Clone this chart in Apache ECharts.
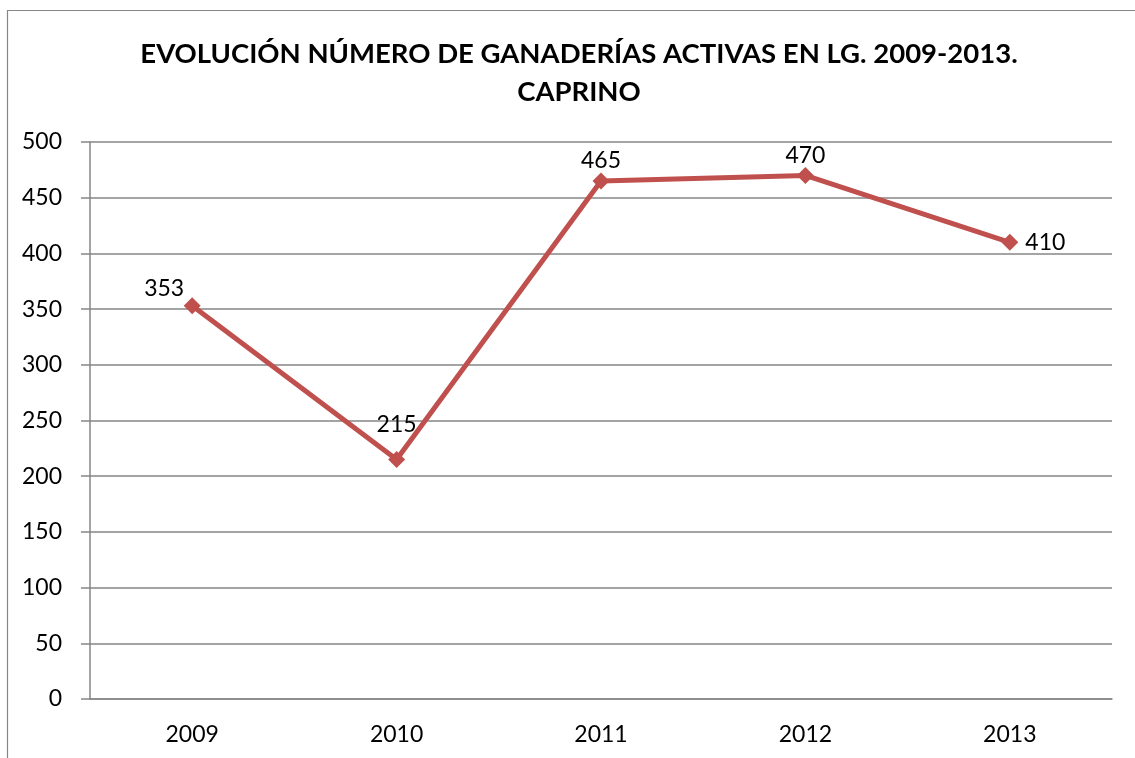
<!DOCTYPE html>
<html>
<head>
<meta charset="utf-8">
<script src="https://cdn.jsdelivr.net/npm/echarts@6/dist/echarts.min.js"></script>
<style>
  html, body { margin: 0; padding: 0; background: #fff; }
  #chart { width: 1135px; height: 758px; }
</style>
</head>
<body>
<div id="chart"></div>
<script>
const years = ["2009", "2010", "2011", "2012", "2013"];
const ganaderias = [353, 215, 465, 470, 410];
const yTicks = [0, 50, 100, 150, 200, 250, 300, 350, 400, 450, 500];

const fuente = "Lato, 'Open Sans', sans-serif";

// posición de cada etiqueta como en el original
const labelPos = [
  { position: "top", offset: [-28, 8] },
  { position: "top", offset: [0, -10] },
  { position: "top", offset: [0, 5] },
  { position: "top", offset: [0, 5] },
  { position: "right", offset: [2, 0] }
];

const chart = echarts.init(document.getElementById("chart"));

chart.setOption({
  animation: false,
  backgroundColor: "#fff",
  title: {
    text: "EVOLUCIÓN NÚMERO DE GANADERÍAS ACTIVAS EN LG. 2009-2013.\nCAPRINO",
    left: 574,
    top: 30,
    textAlign: "center",
    textStyle: {
      fontFamily: fuente,
      fontWeight: "bold",
      fontSize: 27.5,
      lineHeight: 38,
      color: "#000"
    }
  },
  graphic: [{
    type: "rect",
    shape: { x: 7.5, y: 10.5, width: 1140, height: 760 },
    style: { fill: "none", stroke: "#868686", lineWidth: 1.2 },
    silent: true
  }],
  grid: { left: 90, right: 23, top: 142, bottom: 59 },
  xAxis: {
    type: "category",
    data: years,
    boundaryGap: true,
    axisLine: { lineStyle: { color: "#868686", width: 1.5 } },
    axisTick: { show: false },
    axisLabel: { fontFamily: fuente, fontSize: 23, color: "#000", margin: 24 }
  },
  yAxis: {
    type: "value",
    min: yTicks[0],
    max: yTicks[yTicks.length - 1],
    interval: 50,
    axisLine: { show: true, lineStyle: { color: "#868686", width: 1.5 } },
    axisTick: { show: true, length: 9, lineStyle: { color: "#868686", width: 1.5 } },
    axisLabel: { fontFamily: fuente, fontSize: 23, color: "#000", margin: 28 },
    splitLine: { lineStyle: { color: "#868686", width: 1.5 } }
  },
  series: [{
    type: "line",
    data: ganaderias.map((v, i) => ({ value: v, label: labelPos[i] })),
    symbol: "diamond",
    symbolSize: 17,
    lineStyle: { color: "#C0504D", width: 5 },
    itemStyle: { color: "#C0504D" },
    label: {
      show: true,
      fontFamily: fuente,
      fontSize: 23,
      color: "#000"
    }
  }]
});

window.addEventListener("resize", () => chart.resize());
</script>
</body>
</html>
